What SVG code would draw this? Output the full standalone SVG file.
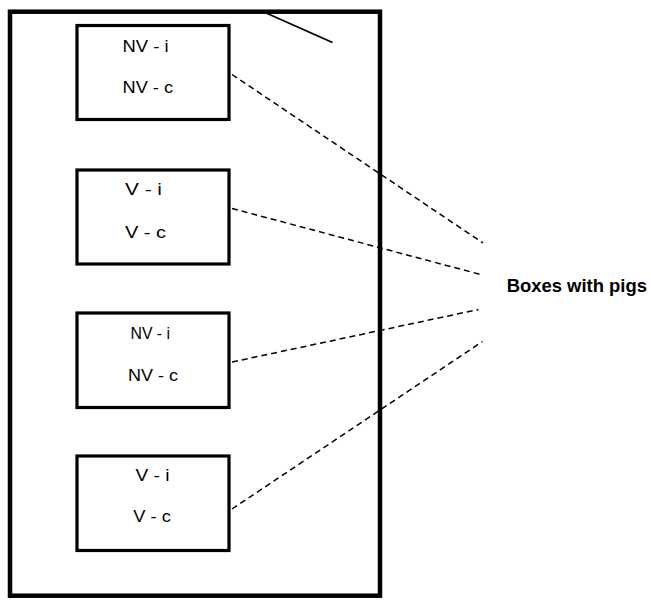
<svg xmlns="http://www.w3.org/2000/svg" width="651" height="600" viewBox="0 0 651 600">
  <style>
    .frame { fill: none; stroke: #000; stroke-width: 4.5; }
    .box { fill: #fff; stroke: #000; stroke-width: 3.2; }
    .lbl { font-family: "Liberation Sans", Arial, sans-serif; font-size: 16.5px; fill: #000; }
    .title { font-family: "Liberation Sans", Arial, sans-serif; font-size: 19px; font-weight: bold; fill: #000; }
    .link { fill: none; stroke: #000; stroke-width: 1.5; stroke-dasharray: 6 4; }
    .tick { fill: none; stroke: #000; stroke-width: 1.8; }
  </style>
  <rect width="651" height="600" fill="#fff"/>

  <!-- outer enclosure -->
  <g id="enclosure">
    <rect class="frame" x="10" y="11.7" width="370" height="584"/>
    <line class="tick" x1="265" y1="12.5" x2="332.5" y2="42.5"/>
  </g>

  <g id="box1">
    <rect class="box" x="77" y="25.5" width="152" height="94"/>
    <text class="lbl" x="122.5" y="51.5" textLength="46" lengthAdjust="spacingAndGlyphs">NV - i</text>
    <text class="lbl" x="122.5" y="93.3" textLength="50.5" lengthAdjust="spacingAndGlyphs">NV - c</text>
  </g>

  <g id="box2">
    <rect class="box" x="77" y="170" width="152" height="94"/>
    <text class="lbl" x="125" y="195.3" textLength="37" lengthAdjust="spacingAndGlyphs">V - i</text>
    <text class="lbl" x="125" y="238.3" textLength="41" lengthAdjust="spacingAndGlyphs">V - c</text>
  </g>

  <g id="box3">
    <rect class="box" x="77" y="313" width="152" height="94.5"/>
    <text class="lbl" x="130.5" y="339" textLength="39.5" lengthAdjust="spacingAndGlyphs">NV - i</text>
    <text class="lbl" x="128" y="381" textLength="50" lengthAdjust="spacingAndGlyphs">NV - c</text>
  </g>

  <g id="box4">
    <rect class="box" x="77" y="456" width="152" height="94.5"/>
    <text class="lbl" x="135.5" y="481.3" textLength="34" lengthAdjust="spacingAndGlyphs">V - i</text>
    <text class="lbl" x="133.3" y="521.7" textLength="37.5" lengthAdjust="spacingAndGlyphs">V - c</text>
  </g>

  <g id="pigs">
    <text class="title" x="506.7" y="291.7" textLength="140.3" lengthAdjust="spacingAndGlyphs">Boxes with pigs</text>
  </g>

  <!-- dashed leaders from each box to the label -->
  <g id="connectors">
    <line class="link" x1="232" y1="74.5" x2="483" y2="243"/>
    <line class="link" x1="232" y1="208.5" x2="482.5" y2="275"/>
    <line class="link" x1="232" y1="362" x2="478.5" y2="309.5"/>
    <line class="link" x1="232" y1="509" x2="482.5" y2="341.5"/>
  </g>
</svg>
